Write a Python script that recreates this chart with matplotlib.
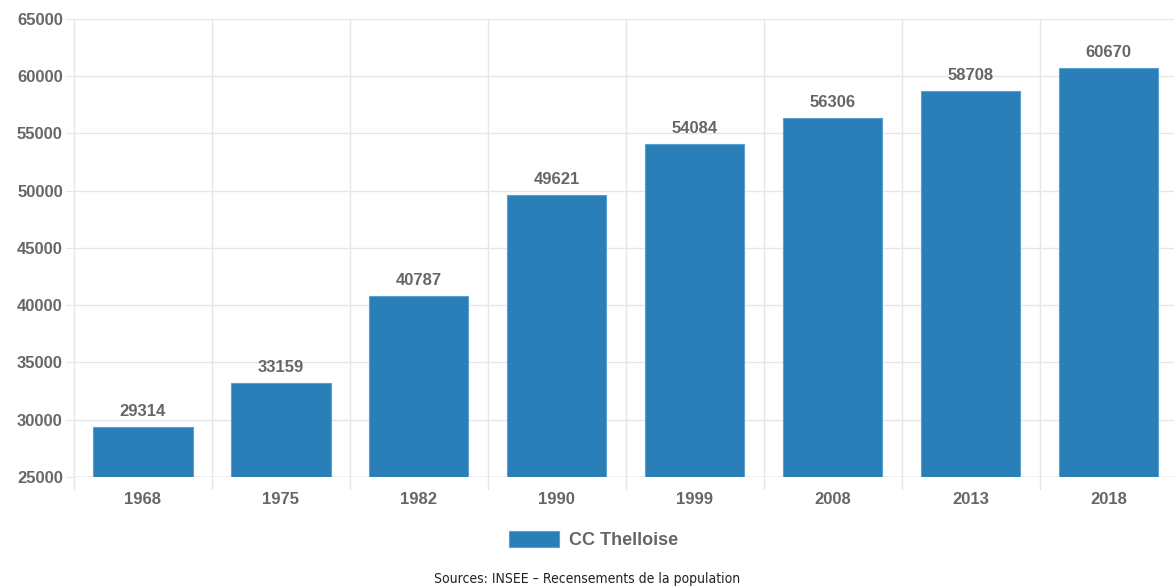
import matplotlib.pyplot as plt
import numpy as np

# Population figures for the communauté de communes
years = ['1968', '1975', '1982', '1990', '1999', '2008', '2013', '2018']
population = [29314, 33159, 40787, 49621, 54084, 56306, 58708, 60670]
series_name = 'CC Thelloise'
source_text = 'Sources: INSEE – Recensements de la population'

bar_color = '#2a7fb8'
text_color = '#666666'
grid_color = '#e6e6e6'

plt.rcParams['font.family'] = ['Liberation Sans', 'DejaVu Sans']

fig = plt.figure(figsize=(11.74, 5.88), dpi=100)
# plot area runs slightly past the right edge of the figure
ax = fig.add_axes([0.063, 0.189, 0.940, 0.779])

x = np.arange(len(years))
bars = ax.bar(x, population, width=0.72, bottom=0, color=bar_color,
              edgecolor='#5aa0d0', linewidth=0.8, zorder=3, label=series_name)

# value labels above each bar
for xi, val in zip(x, population):
    ax.text(xi, val + 700, str(val), ha='center', va='bottom',
            fontsize=12, fontweight='bold', color=text_color, zorder=4)

ax.set_ylim(25000, 65000)
ax.set_xlim(-0.5, len(years) - 0.5)
ax.set_yticks(np.arange(25000, 65001, 5000))

# vertical grid lines between categories, drawn down past the axis like ticks
for b in np.arange(-0.5, len(years), 1.0):
    ax.plot([b, b], [25000 - 1100, 65000], color=grid_color, lw=1,
            clip_on=False, zorder=1)
ax.grid(axis='y', color=grid_color, lw=1, zorder=0)
ax.axhline(25000, color='#d0d0d0', lw=1, zorder=2)

ax.set_xticks(x)
ax.set_xticklabels(years)
ax.tick_params(axis='x', length=0, pad=11, labelsize=12, labelcolor=text_color)
ax.tick_params(axis='y', length=6, color=grid_color, pad=2,
               labelsize=12, labelcolor=text_color)
for lbl in ax.get_xticklabels() + ax.get_yticklabels():
    lbl.set_fontweight('bold')

for side in ['top', 'right', 'bottom', 'left']:
    ax.spines[side].set_visible(False)

leg = fig.legend(handles=[bars], labels=[series_name], loc='center',
                 bbox_to_anchor=(0.5055, 0.082), frameon=False,
                 handlelength=2.8, handleheight=1.05, handletextpad=0.55,
                 prop={'size': 13, 'weight': 'bold'})
for t in leg.get_texts():
    t.set_color(text_color)

fig.text(0.5, 0.016, source_text, ha='center', va='center', fontsize=10,
         color='#222222', family='DejaVu Sans', stretch='condensed')

fig.savefig('out.png', dpi=100)
